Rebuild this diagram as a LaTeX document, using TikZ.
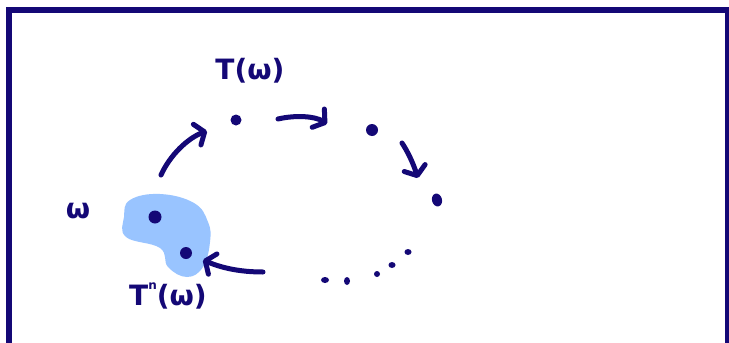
\documentclass[tikz,border=0pt]{standalone}
\usepackage{fontspec}
\setmainfont{DejaVu Sans}
\usetikzlibrary{arrows.meta,shapes.geometric}
\definecolor{ink}{RGB}{20,8,118}
\definecolor{blobc}{RGB}{153,196,255}
\tikzset{
  pen/.style={ink,line width=5pt,line cap=round,line join=round,
    -{Straight Barb[length=8pt,width=22pt,line width=5pt,round]}},
  lbl/.style={text=ink,font=\bfseries\fontsize{28}{30}\selectfont,inner sep=0pt},
  bigdot/.style={circle,fill=ink,inner sep=0pt,minimum size=12pt},
  smalldot/.style={ellipse,fill=ink,inner sep=0pt,minimum width=7pt,minimum height=6pt}
}
\begin{document}
\begin{tikzpicture}[x=1pt,y=-1pt]
\useasboundingbox (0,0) rectangle (729,343);
\clip (0,0) rectangle (729,343);
\fill[white] (0,0) rectangle (729,343);
\draw[ink,line width=6.5pt] (9,10) rectangle (728,347);
% blob
\fill[blobc] plot[smooth cycle,tension=0.7] coordinates
  {(124,217) (130,200) (160,194) (194,203) (208,222) (210,242) (203,267) (187,277) (168,267) (160,248) (126,237)};
% dots
\node[bigdot,minimum size=13pt] (w) at (155,217) {};
\node[bigdot] (tnw) at (186,253) {};
\node[bigdot,minimum size=11pt] (tw) at (236,120) {};
\node[bigdot] (t2) at (372,130) {};
\node[ellipse,fill=ink,inner sep=0pt,minimum width=10pt,minimum height=13pt,rotate=15] (t3) at (437,200) {};
\node[smalldot,minimum width=8pt] (d1) at (325,280) {};
\node[smalldot,minimum width=6pt,minimum height=8pt] (d2) at (347,281) {};
\node[smalldot,minimum width=6pt] (d3) at (377,274) {};
\node[smalldot] (d4) at (392,265) {};
\node[smalldot] (d5) at (408,252) {};
% labels
\node[lbl] (lw) at (78,211) {ω};
\node[lbl] (ltw) at (250,71) {T(ω)};
\node[lbl] (ltnw) at (168,296) {T\raisebox{0.55em}{\fontsize{12}{12}\selectfont n}(ω)};
% arrow anchors
\coordinate (a1s) at (161,175);
\coordinate (a1e) at (207,131);
\coordinate (a2s) at (278,119);
\coordinate (a2e) at (327,124);
\coordinate (a3s) at (402,143);
\coordinate (a3e) at (418,178);
\coordinate (a4s) at (263,272);
\coordinate (a4e) at (203,260);
% arrows
\draw[pen] (a1s) .. controls (170,155) and (188,138) .. (a1e);
\draw[pen] (a2s) .. controls (295,115) and (315,116) .. (a2e);
\draw[pen] (a3s) .. controls (408,152) and (413,163) .. (a3e);
\draw[pen] (a4s) .. controls (240,272) and (222,268) .. (a4e);
\end{tikzpicture}
\end{document}
